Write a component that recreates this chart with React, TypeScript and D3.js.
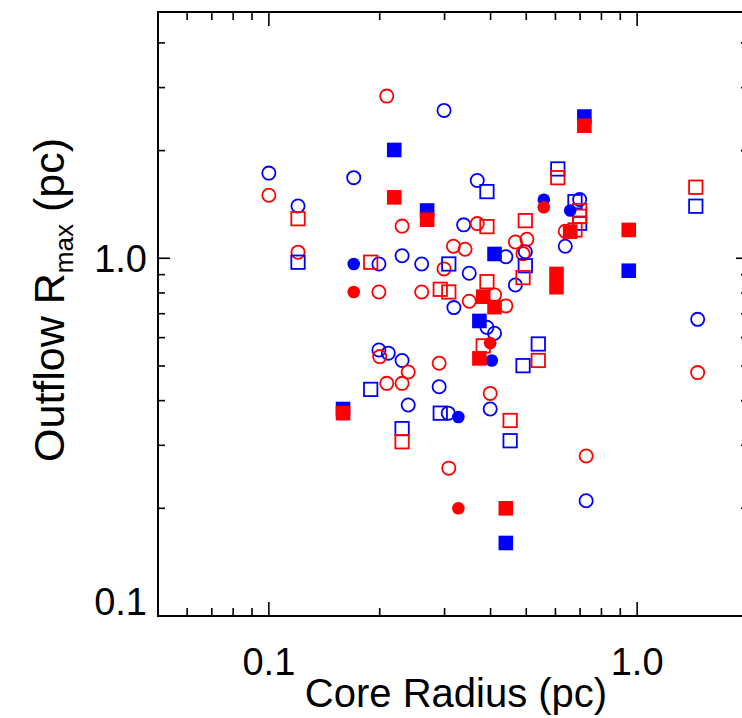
import React from "react";
import * as d3 from "d3";

type P = [number, number];

const openCircleRed: P[] = [
  [0.209, 2.84], [0.1, 1.5], [0.23, 1.23], [0.317, 1.08], [0.12, 1.04], [0.299, 0.934],
  [0.199, 0.805], [0.26, 0.805], [0.368, 1.25], [0.467, 1.11], [0.502, 1.13], [0.341, 1.06],
  [0.49, 1.03], [0.638, 1.19], [0.35, 0.758], [0.41, 0.79], [0.44, 0.736], [0.2, 0.531],
  [0.239, 0.481], [0.209, 0.447], [0.23, 0.447], [0.29, 0.509], [0.399, 0.419], [0.308, 0.259],
  [0.727, 0.28], [1.46, 0.479],
];
const openCircleBlue: P[] = [
  [0.299, 2.59], [0.1, 1.73], [0.17, 1.68], [0.12, 1.4], [0.338, 1.24], [0.23, 1.016],
  [0.199, 0.964], [0.26, 0.964], [0.318, 0.728], [0.368, 1.65], [0.698, 1.46], [0.638, 1.08],
  [0.44, 1.01], [0.497, 1.043], [0.35, 0.908], [0.467, 0.842], [0.391, 0.641], [0.41, 0.617],
  [0.199, 0.554], [0.211, 0.543], [0.23, 0.518], [0.29, 0.4375], [0.239, 0.389], [0.399, 0.379],
  [1.46, 0.675], [0.727, 0.21], [0.307, 0.369],
];
const openSquareRed: P[] = [
  [0.12, 1.29], [0.609, 1.68], [0.698, 1.36], [0.698, 1.31], [0.678, 1.2], [0.391, 1.226],
  [0.497, 1.274], [0.189, 0.975], [0.292, 0.819], [0.308, 0.805], [0.49, 0.883], [0.391, 0.86],
  [1.443, 1.58], [0.382, 0.569], [0.539, 0.518], [0.452, 0.352], [0.23, 0.307],
];
const openSquareBlue: P[] = [
  [0.12, 0.975], [0.609, 1.777], [0.391, 1.536], [0.678, 1.44], [0.698, 1.253], [0.308, 0.964],
  [0.497, 0.953], [1.443, 1.398], [0.539, 0.576], [0.49, 0.501], [0.189, 0.43], [0.292, 0.369],
  [0.452, 0.309], [0.23, 0.334],
];
const filledCircleRed: P[] = [[0.17, 0.805], [0.558, 1.389], [0.399, 0.579], [0.327, 0.2]];
const filledCircleBlue: P[] = [[0.17, 0.964], [0.558, 1.458], [0.658, 1.36], [0.403, 0.518], [0.327, 0.36]];
const filledSquareRed: P[] = [
  [0.219, 1.48], [0.269, 1.282], [0.719, 2.347], [0.658, 1.187], [0.949, 1.2], [0.604, 0.904],
  [0.604, 0.83], [0.382, 0.781], [0.41, 0.73], [0.373, 0.525], [0.159, 0.369], [0.44, 0.2],
];
const filledSquareBlue: P[] = [
  [0.219, 2.008], [0.269, 1.36], [0.719, 2.49], [0.949, 0.923], [0.41, 1.028], [0.373, 0.668],
  [0.159, 0.379], [0.44, 0.16],
];

const xMajor = [0.1, 1.0];
const xMinor = [0.06, 0.07, 0.08, 0.09, 0.2, 0.3, 0.4, 0.5, 0.6, 0.7, 0.8, 0.9];
const yMajor = [0.1, 1.0];
const yMinor = [0.2, 0.3, 0.4, 0.5, 0.6, 0.7, 0.8, 0.9, 2, 3, 4];
const xTickLabels = ["0.1", "1.0"];
const yTickLabels = ["0.1", "1.0"];

const W = 742, H = 718;
const L = 158, R = 748, T = 12, B = 616;
const RED = "#ff0000", BLUE = "#0000ff";
const FONT = "'Liberation Sans', Arial, Helvetica, sans-serif";

export default function App() {
  const x = d3.scaleLog().domain([0.05, 2.0]).range([L, R]);
  const y = d3.scaleLog().domain([0.1, 4.88]).range([B, T]);
  const r = 6.6;
  const s = 13.4;
  const sf = 14.6;

  const circles = (data: P[], color: string, filled: boolean, key: string) =>
    data.map((d, i) => (
      <circle key={key + i} cx={x(d[0])} cy={y(d[1])} r={filled ? 6.3 : r}
        fill={filled ? color : "none"} stroke={color} strokeWidth={filled ? 0 : 1.8} />
    ));
  const squares = (data: P[], color: string, filled: boolean, key: string) =>
    data.map((d, i) => {
      const a = filled ? sf : s;
      return (
        <rect key={key + i} x={x(d[0]) - a / 2} y={y(d[1]) - a / 2} width={a} height={a}
          fill={filled ? color : "none"} stroke={color} strokeWidth={filled ? 0 : 1.8} />
      );
    });

  return (
    <svg width={W} height={H} style={{ position: "absolute", left: 0, top: 0, background: "#fff" }}
      fontFamily={FONT}>
      <rect x={0} y={0} width={W} height={H} fill="#fff" />
      {/* ticks */}
      <g stroke="#000" strokeWidth={1.6}>
        {xMinor.map((v, i) => (
          <g key={"xm" + i}>
            <line x1={x(v)} x2={x(v)} y1={B} y2={B - 8} />
            <line x1={x(v)} x2={x(v)} y1={T} y2={T + 8} />
          </g>
        ))}
        {xMajor.map((v, i) => (
          <g key={"xM" + i}>
            <line x1={x(v)} x2={x(v)} y1={B} y2={B - 14} />
            <line x1={x(v)} x2={x(v)} y1={T} y2={T + 14} />
          </g>
        ))}
        {yMinor.map((v, i) => (
          <g key={"ym" + i}>
            <line x1={L} x2={L + 7} y1={y(v)} y2={y(v)} />
            <line x1={R} x2={R - 7} y1={y(v)} y2={y(v)} />
          </g>
        ))}
        {yMajor.map((v, i) => (
          <g key={"yM" + i}>
            <line x1={L} x2={L + 12} y1={y(v)} y2={y(v)} />
            <line x1={R} x2={R - 12} y1={y(v)} y2={y(v)} />
          </g>
        ))}
      </g>
      <rect x={L} y={T} width={R - L} height={B - T} fill="none" stroke="#000" strokeWidth={2} />
      {/* markers */}
      {circles(openCircleBlue, BLUE, false, "ocb")}
      {circles(openCircleRed, RED, false, "ocr")}
      {squares(openSquareBlue, BLUE, false, "osb")}
      {squares(openSquareRed, RED, false, "osr")}
      {circles(filledCircleBlue, BLUE, true, "fcb")}
      {circles(filledCircleRed, RED, true, "fcr")}
      {squares(filledSquareBlue, BLUE, true, "fsb")}
      {squares(filledSquareRed, RED, true, "fsr")}
      {/* tick labels */}
      {xMajor.map((v, i) => (
        <text key={"xl" + i} x={x(v)} y={675} textAnchor="middle" fontSize={38} fill="#000">
          {xTickLabels[i]}
        </text>
      ))}
      {yMajor.map((v, i) => (
        <text key={"yl" + i} x={147} y={i === 0 ? B - 1 : y(v) + 13.5} textAnchor="end" fontSize={38} fill="#000">
          {yTickLabels[i]}
        </text>
      ))}
      <text x={456} y={707} textAnchor="middle" fontSize={40} fill="#000">Core Radius (pc)</text>
      <text transform="translate(64,300) rotate(-90)" textAnchor="middle" fontSize={43} fill="#000">
        Outflow R<tspan fontSize={26} dy={9}>max</tspan><tspan dy={-9}> (pc)</tspan>
      </text>
    </svg>
  );
}
